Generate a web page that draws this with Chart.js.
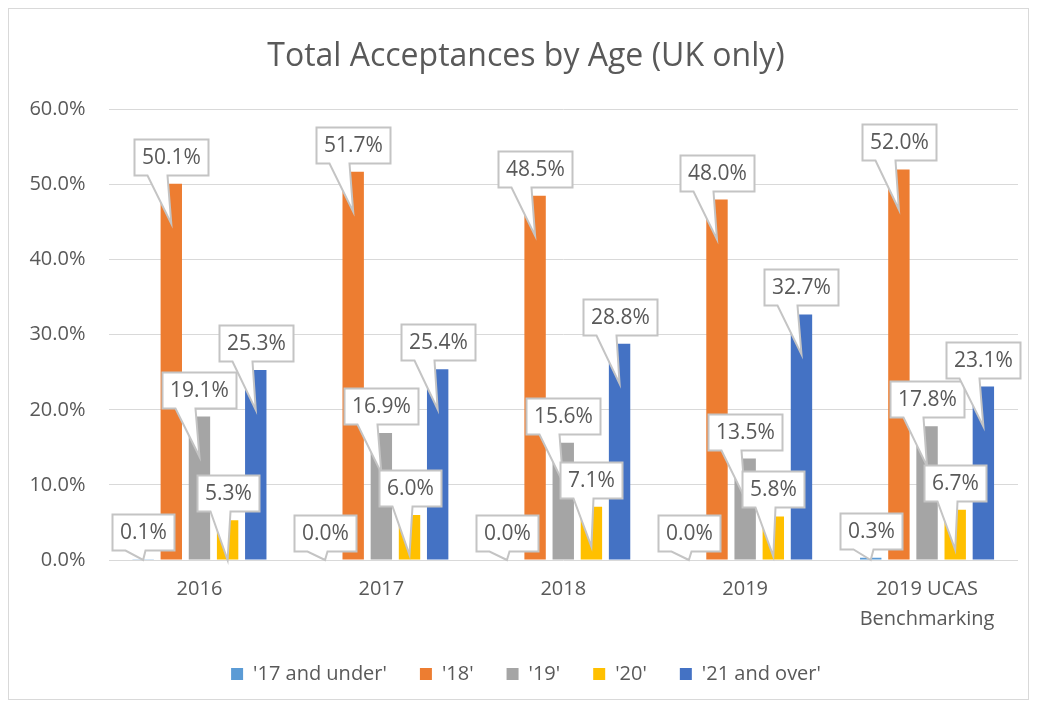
<!DOCTYPE html>
<html>
<head>
<meta charset="utf-8">
<script src="https://cdn.jsdelivr.net/npm/chart.js@4.4.0/dist/chart.umd.min.js"></script>
<style>
    html, body { margin: 0; padding: 0; background: #fff; }
    #wrap { width: 1037px; height: 706px; position: relative; }
</style>
</head>
<body>
<div id="wrap"><canvas id="chart"></canvas></div>
<script>
// Chart data (percent of acceptances)
const categories = ['2016', '2017', '2018', '2019', ['2019 UCAS', 'Benchmarking']];
const seriesNames = ["'17 and under'", "'18'", "'19'", "'20'", "'21 and over'"];
const under17 = [0.1, 0.0, 0.0, 0.0, 0.3];
const age18 = [50.1, 51.7, 48.5, 48.0, 52.0];
const age19 = [19.1, 16.9, 15.6, 13.5, 17.8];
const age20 = [5.3, 6.0, 7.1, 5.8, 6.7];
const over21 = [25.3, 25.4, 28.8, 32.7, 23.1];
const seriesColors = ['#5B9BD5', '#ED7D31', '#A5A5A5', '#FFC000', '#4472C4'];

const FONT = '"Open Sans", Lato, sans-serif';
const TEXT = '#595959';
const GRID = '#d9d9d9';

// white background + thin frame round the whole chart
const framePlugin = {
    id: 'frame',
    beforeDraw(chart) {
        const ctx = chart.ctx;
        ctx.save();
        ctx.fillStyle = '#fff';
        ctx.fillRect(0, 0, chart.width, chart.height);
        ctx.strokeStyle = GRID;
        ctx.lineWidth = 1;
        ctx.strokeRect(8.5, 8.5, chart.width - 17, chart.height - 15);
        ctx.restore();
    }
};

// title and legend sit centred on the whole frame, not the padded box
const centrePlugin = {
    id: 'centre',
    afterLayout(chart) {
        [chart.titleBlock, chart.legend].forEach(b => {
            if (b) { b.left += 12; b.right += 12; }
        });
    }
};

// Excel style data callouts: box above the bar, pointer into the bar
const calloutPlugin = {
    id: 'callouts',
    afterDatasetsDraw(chart) {
        const ctx = chart.ctx;
        const base = chart.scales.y.getPixelForValue(0);
        ctx.save();
        ctx.font = '21px ' + FONT;
        chart.data.datasets.forEach((ds, di) => {
            const meta = chart.getDatasetMeta(di);
            meta.data.forEach((bar, i) => {
                const label = ds.data[i].toFixed(1) + '%';
                const w = Math.round(ctx.measureText(label).width + 15);
                const h = 36;
                const left = Math.round(bar.x - w / 2) + 0.5;
                const bottom = Math.round(bar.y - 9) + 0.5;
                const top = bottom - h;
                const right = left + w;
                const tipY = Math.min(bar.y + 40, base);

                ctx.beginPath();
                ctx.moveTo(left, top);
                ctx.lineTo(right, top);
                ctx.lineTo(right, bottom);
                ctx.lineTo(left + 33, bottom);
                ctx.lineTo(bar.x, tipY);
                ctx.lineTo(left + 13, bottom);
                ctx.lineTo(left, bottom);
                ctx.closePath();
                ctx.fillStyle = '#fff';
                ctx.fill();
                ctx.strokeStyle = '#c4c4c4';
                ctx.lineWidth = 2;
                ctx.lineJoin = 'miter';
                ctx.stroke();

                ctx.fillStyle = TEXT;
                ctx.textAlign = 'center';
                ctx.textBaseline = 'middle';
                ctx.fillText(label, left + w / 2, top + h / 2 + 1);
            });
        });
        ctx.restore();
    }
};

const seriesData = [under17, age18, age19, age20, over21];

new Chart(document.getElementById('chart').getContext('2d'), {
    type: 'bar',
    data: {
        labels: categories,
        datasets: seriesData.map((values, i) => ({
            label: seriesNames[i],
            data: values,
            backgroundColor: seriesColors[i],
            borderWidth: 0,
            categoryPercentage: 0.774,
            barPercentage: 0.76
        }))
    },
    options: {
        responsive: true,
        maintainAspectRatio: false,
        animation: false,
        layout: { padding: { top: 20, left: 10, right: 19, bottom: 12 } },
        scales: {
            x: {
                grid: { display: false, drawTicks: false },
                border: { display: false },
                ticks: {
                    color: TEXT,
                    font: { family: FONT, size: 20, lineHeight: 1.5 },
                    padding: 14,
                    maxRotation: 0
                },
                afterFit(scale) { scale.height = 71; }
            },
            y: {
                min: 0,
                max: 60,
                grid: { color: GRID, drawTicks: false },
                border: { display: false },
                ticks: {
                    stepSize: 10,
                    color: TEXT,
                    font: { family: FONT, size: 20 },
                    padding: 23,
                    callback: v => v.toFixed(1) + '%'
                },
                afterFit(scale) { scale.width = 98.5; }
            }
        },
        plugins: {
            title: {
                display: true,
                text: 'Total Acceptances by Age (UK only)',
                color: TEXT,
                font: { family: FONT, size: 32, weight: 'normal' },
                padding: { top: 18, bottom: 33 }
            },
            legend: {
                position: 'bottom',
                labels: {
                    color: TEXT,
                    font: { family: FONT, size: 20 },
                    boxWidth: 12,
                    boxHeight: 12,
                    padding: 33
                }
            },
            tooltip: { enabled: false }
        }
    },
    plugins: [framePlugin, centrePlugin, calloutPlugin]
});
</script>
</body>
</html>
